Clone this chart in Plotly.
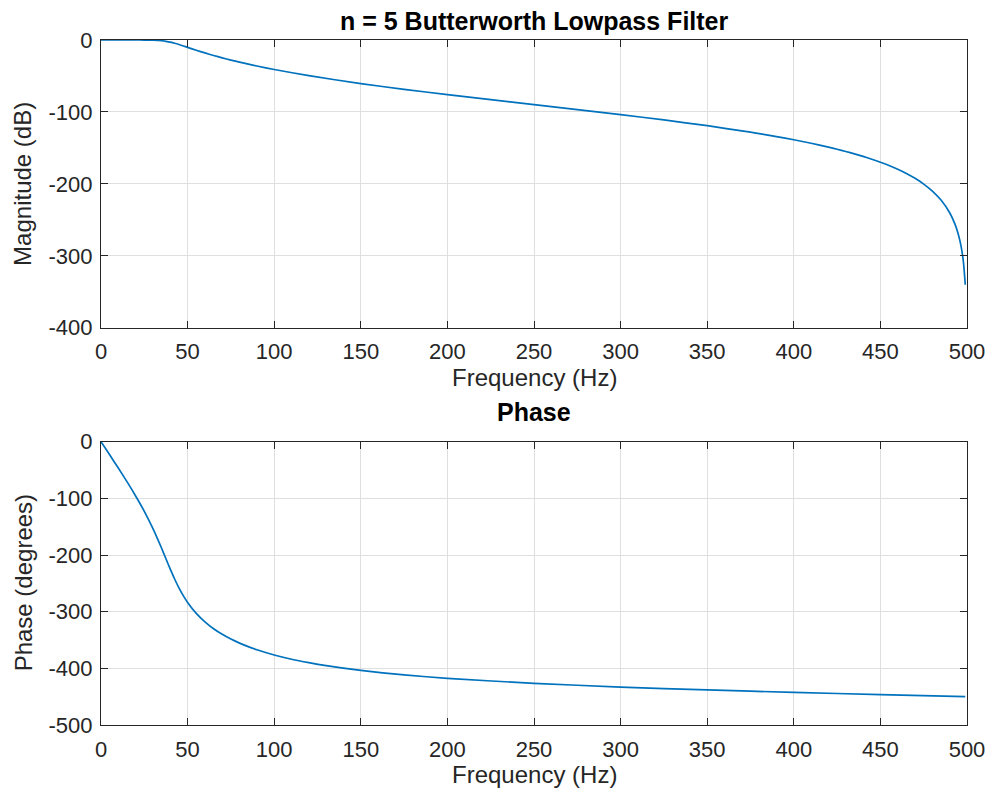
import plotly.graph_objects as go

# ---- data (frequency in Hz) ----
freq_mag = [0, 10, 20, 25, 30, 35, 37.5, 40, 42.5, 45, 47.5, 50, 55, 60, 65, 70,
            75, 80, 90, 100, 120, 150, 175, 200, 225, 250, 275, 300, 325, 350,
            375, 380, 390, 400, 410, 420, 425, 430, 435, 440, 445, 450, 455, 460,
            465, 470, 475, 480, 485, 490, 493, 495, 496, 497, 498, 499]
mag_db = [0, 0, -0.004, -0.04, -0.23, -1.0, -1.82, -3.01, -4.54, -6.33, -8.26,
          -10.25, -14.2, -17.97, -21.49, -24.8, -27.89, -30.81, -36.17, -41.03,
          -49.61, -60.57, -68.58, -75.98, -82.99, -89.85, -96.7, -103.72,
          -111.12, -119.13, -128.13, -130.09, -134.22, -138.67, -143.52, -148.9,
          -151.81, -154.92, -158.23, -161.8, -165.66, -169.88, -174.53, -179.7,
          -185.55, -192.29, -200.25, -209.98, -222.49, -240.12, -255.62,
          -270.23, -279.93, -292.4, -310.0, -340.1]

freq_phase = [0, 5, 10, 15, 20, 25, 30, 35, 37.5, 40, 42.5, 45, 47.5, 50, 55, 60,
              65, 70, 75, 80, 85, 90, 100, 110, 120, 130, 150, 175, 200, 250,
              300, 350, 400, 450, 499]
phase_deg = [0, -23.1, -46.5, -70.5, -95.8, -122.8, -153.3, -188.0, -206.6,
             -225.0, -242.3, -257.9, -271.7, -283.6, -303.0, -318.0, -330.1,
             -340.0, -348.4, -355.5, -361.75, -367.2, -376.4, -383.9, -390.0,
             -395.3, -403.7, -411.6, -417.6, -426.5, -433.0, -438.1, -442.4,
             -446.3, -449.9]

x_ticks = [0, 50, 100, 150, 200, 250, 300, 350, 400, 450, 500]
mag_ticks = [0, -100, -200, -300, -400]
phase_ticks = [0, -100, -200, -300, -400, -500]

title_top = "n = 5 Butterworth Lowpass Filter"
title_bottom = "Phase"
x_label = "Frequency (Hz)"
y_label_top = "Magnitude (dB)"
y_label_bottom = "Phase (degrees)"

# ---- style ----
W, H = 991, 793
FONT = "Liberation Sans, Arial, Helvetica, sans-serif"
AX = "#262626"
GRID = "#dfdfdf"
LINE = "#0072BD"
TICK_SIZE = 22
LABEL_SIZE = 24
TITLE_SIZE = 25

# plot-area edges in pixels
L, R = 101, 967
T, B = 39.5, 725
top_y0, top_y1 = 39.5, 327.5
bot_y0, bot_y1 = 441.5, 725
PW, PH = R - L, B - T


def py(px):
    return (B - px) / PH


def px_(x):
    return (x - L) / PW


fig = go.Figure()
fig.add_trace(go.Scatter(x=freq_mag, y=mag_db, mode="lines",
                         line=dict(color=LINE, width=1.7, shape="spline", smoothing=0.6),
                         xaxis="x", yaxis="y", showlegend=False))
fig.add_trace(go.Scatter(x=freq_phase, y=phase_deg, mode="lines",
                         line=dict(color=LINE, width=1.7, shape="spline", smoothing=0.6),
                         xaxis="x2", yaxis="y2", showlegend=False))

axis_common = dict(
    showline=True, linecolor=AX, linewidth=1.3, mirror="ticks",
    ticks="inside", ticklen=7, tickwidth=1.2, tickcolor=AX,
    showgrid=True, gridcolor=GRID, gridwidth=1, zeroline=False,
    automargin=False,
    tickfont=dict(family=FONT, size=TICK_SIZE, color=AX),
)

fig.update_layout(
    width=W, height=H,
    margin=dict(l=L, r=W - R, t=T, b=H - B, pad=0, autoexpand=False),
    paper_bgcolor="white", plot_bgcolor="white",
    font=dict(family=FONT, color=AX),
    xaxis=dict(domain=[0, 1], range=[0, 500], tickvals=x_ticks,
               ticktext=[str(v) for v in x_ticks], anchor="y",
               ticklabelstandoff=4, **axis_common),
    yaxis=dict(domain=[py(top_y1), py(top_y0)], range=[-400, 0],
               tickvals=mag_ticks, ticktext=[str(v) for v in mag_ticks],
               anchor="x", ticklabelstandoff=3, **axis_common),
    xaxis2=dict(domain=[0, 1], range=[0, 500], tickvals=x_ticks,
                ticktext=[str(v) for v in x_ticks], anchor="y2",
                ticklabelstandoff=4, **axis_common),
    yaxis2=dict(domain=[py(bot_y1), py(bot_y0)], range=[-500, 0],
                tickvals=phase_ticks, ticktext=[str(v) for v in phase_ticks],
                anchor="x2", ticklabelstandoff=3, **axis_common),
)

cx = 0.5
ann = [
    dict(text="<b>" + title_top + "</b>", x=cx, y=py(20), size=TITLE_SIZE, color="#000000", angle=0),
    dict(text="<b>" + title_bottom + "</b>", x=cx, y=py(411.5), size=TITLE_SIZE, color="#000000", angle=0),
    dict(text=x_label, x=cx, y=py(377), size=LABEL_SIZE, color=AX, angle=0),
    dict(text=x_label, x=cx, y=py(774.5), size=LABEL_SIZE, color=AX, angle=0),
    dict(text=y_label_top, x=px_(23), y=py((top_y0 + top_y1) / 2), size=LABEL_SIZE, color=AX, angle=-90),
    dict(text=y_label_bottom, x=px_(23), y=py((bot_y0 + bot_y1) / 2), size=LABEL_SIZE, color=AX, angle=-90),
]
for a in ann:
    fig.add_annotation(text=a["text"], x=a["x"], y=a["y"], xref="paper", yref="paper",
                       xanchor="center", yanchor="middle", showarrow=False,
                       textangle=a["angle"],
                       font=dict(family=FONT, size=a["size"], color=a["color"]))

fig.write_html("out.html",
               config={"displayModeBar": False},
               post_script="document.body.style.margin='0px';"
                           "document.body.style.overflow='hidden';")
